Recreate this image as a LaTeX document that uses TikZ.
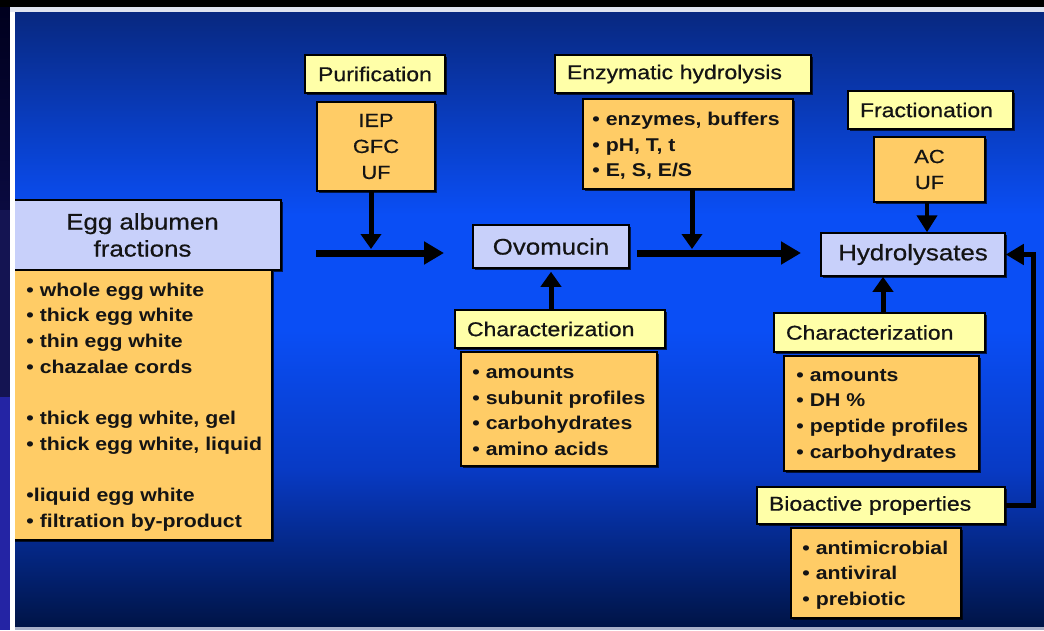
\documentclass[tikz,border=0pt]{standalone}
\usepackage{fontspec}
\setmainfont{Liberation Sans}[FakeStretch=1.15]
\newfontfamily\hfont{Liberation Sans}[FakeStretch=1.15,FakeBold=0.6]
\usetikzlibrary{arrows.meta,shadows}
\definecolor{lav}{RGB}{200,208,250}
\definecolor{yel}{RGB}{255,255,168}
\definecolor{org}{RGB}{255,204,102}
\definecolor{ptop}{RGB}{8,40,128}
\definecolor{pmid}{RGB}{10,78,245}
\definecolor{plow}{RGB}{8,58,196}
\definecolor{pbot}{RGB}{0,20,70}
\definecolor{sA}{RGB}{0,0,30}
\definecolor{sB}{RGB}{10,10,64}
\definecolor{sC}{RGB}{20,20,82}
\definecolor{sD}{RGB}{36,36,164}
\definecolor{edge}{RGB}{224,228,240}
\definecolor{edgeb}{RGB}{168,176,200}
\definecolor{ink}{RGB}{20,20,20}
\begin{document}
\begin{tikzpicture}[x=1pt,y=-1pt,
  box/.style={draw=black, line width=1.5pt, inner sep=0pt, text=ink,
    drop shadow={shadow xshift=1.5pt,shadow yshift=-1.5pt,fill=black,opacity=0.7}},
  lavbox/.style={box, fill=lav, font=\hfont\fontsize{22.5}{27}\selectfont, align=center},
  hdr/.style={box, fill=yel, font=\hfont\fontsize{20}{24}\selectfont, align=left, inner xsep=12pt},
  obox/.style={box, fill=org},
  cen/.style={font=\hfont\fontsize{19}{26}\selectfont, align=center},
  lst/.style={font=\fontsize{18.5}{25.7}\selectfont\bfseries, align=left, inner sep=0pt, anchor=west, text=ink},
  bigarrow/.style={line width=7pt, -{Triangle[length=20pt,width=22pt]}},
  arr/.style={line width=5pt, -{Triangle[length=15pt,width=20pt]}},
]
\useasboundingbox (0,0) rectangle (1044,630);
% background
\fill[black] (0,0) rectangle (1044,630);
\fill[top color=ptop, bottom color=pmid] (15,12) rectangle (1044,215);
\fill[pmid] (15,214) rectangle (1044,331);
\fill[top color=pmid, bottom color=plow] (15,330) rectangle (1044,471);
\fill[top color=plow, bottom color=pbot] (15,470) rectangle (1044,627);
\fill[edgeb] (15,627) rectangle (1044,630);

% left column
\node[lavbox, minimum width=277pt, minimum height=70pt] (eggH) at (142.5,235) {Egg albumen\\fractions};
\node[obox, minimum width=268pt, minimum height=270pt] (eggL) at (138,405) {};
\node[lst] (eggLt) at ([xshift=23pt,yshift=-2pt]eggL.west) {• whole egg white\\• thick egg white\\• thin egg white\\• chazalae cords\\[25.7pt]• thick egg white, gel\\• thick egg white, liquid\\[25.7pt]•liquid egg white\\• filtration by-product};

% purification
\node[hdr, align=center, inner xsep=0pt, minimum width=140pt, minimum height=38pt] (purH) at (375,74) {Purification};
\node[obox, cen, minimum width=118pt, minimum height=89pt] (purB) at (376,146.5) {IEP\\GFC\\UF};

% ovomucin
\node[lavbox, minimum width=156pt, minimum height=43pt] (ovo) at (551,246.5) {Ovomucin};

% enzymatic hydrolysis
\node[hdr, text width=232pt, minimum height=38pt] (enzH) at (683,74) {Enzymatic hydrolysis};
\node[obox, minimum width=210pt, minimum height=90pt] (enzB) at (688,144) {};
\node[lst] (enzBt) at ([xshift=10pt,yshift=-2pt]enzB.west) {• enzymes, buffers\\• pH, T, t\\• E, S, E/S};

% fractionation
\node[hdr, text width=141pt, minimum height=38pt] (fraH) at (930.5,110) {Fractionation};
\node[obox, cen, minimum width=111pt, minimum height=65pt] (fraB) at (929.5,169.5) {AC\\UF};

% hydrolysates
\node[lavbox, minimum width=184pt, minimum height=43pt] (hyd) at (913,254.5) {Hydrolysates};

% characterization (ovomucin)
\node[hdr, text width=186pt, minimum height=38pt] (ochH) at (560,329) {Characterization};
\node[obox, minimum width=196pt, minimum height=114pt] (ochB) at (559,409) {};
\node[lst] (ochBt) at ([xshift=12pt,yshift=-2pt]ochB.west) {• amounts\\• subunit profiles\\• carbohydrates\\• amino acids};

% characterization (hydrolysates)
\node[hdr, text width=187pt, minimum height=39pt] (hchH) at (879.5,332.5) {Characterization};
\node[obox, minimum width=195pt, minimum height=115pt] (hchB) at (881.5,413.5) {};
\node[lst] (hchBt) at ([xshift=13pt,yshift=-2pt]hchB.west) {• amounts\\• DH \%\\• peptide profiles\\• carbohydrates};

% bioactive
\node[hdr, text width=224pt, minimum height=37pt] (bioH) at (881,505.5) {Bioactive properties};
\node[obox, minimum width=170pt, minimum height=90pt] (bioB) at (876,573) {};
\node[lst] (bioBt) at ([xshift=12pt,yshift=-2pt]bioB.west) {• antimicrobial\\• antiviral\\• prebiotic};

% connectors
\coordinate (s1) at (316,253);
\coordinate (t1) at (444,253);
\coordinate (j1) at (371,249);
\coordinate (s2) at (637,253);
\coordinate (t2) at (801,253);
\coordinate (j2) at (692,249);
\coordinate (x927) at (927,0);
\coordinate (x883) at (883,0);
\coordinate (fb) at (1033,254.5);

\draw[bigarrow] (s1) -- (t1);
\draw[arr] (purB.south -| j1) -- (j1);
\draw[bigarrow] (s2) -- (t2);
\draw[arr] (enzB.south -| j2) -- (j2);
\draw[line width=4.5pt, -{Triangle[length=17pt,width=20pt]}] (fraB.south -| x927) -- (hyd.north -| x927);
\draw[arr] (ochH.north -| ovo.south) -- ([yshift=-3pt]ovo.south);
\draw[arr] (hchH.north -| x883) -- (hyd.south -| x883);
\draw[line width=5pt, -{Triangle[length=18pt,width=20pt]}] (bioH.east) -| (fb) -- (hyd.east);

% frame overlays
\fill[top color=sA, bottom color=sB] (0,7) rectangle (10,211);
\fill[sC] (0,210) rectangle (10,398);
\fill[sD] (0,397) rectangle (10,630);
\fill[white] (10,7) rectangle (15,630);
\fill[edge] (10,7) rectangle (1044,12);
\end{tikzpicture}
\end{document}
